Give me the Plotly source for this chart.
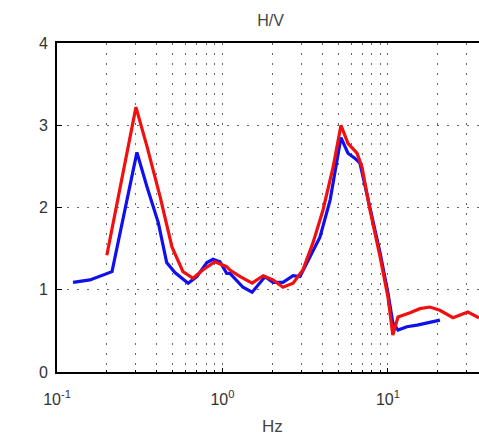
import plotly.graph_objects as go

# Blue H/V curve
blue_f = [0.125, 0.158, 0.215, 0.304, 0.35, 0.41, 0.46, 0.516, 0.62, 0.70, 0.805, 0.877, 0.966, 1.06,
          1.11, 1.33, 1.51, 1.64, 1.81, 2.02, 2.32, 2.67, 2.94, 3.38, 3.88, 4.47, 4.92, 5.2, 5.73, 6.3,
          6.77, 7.78, 8.96, 10.0, 10.7, 11.5, 13.0, 15.0, 17.9, 20.6]
blue_v = [1.09, 1.12, 1.22, 2.67, 2.25, 1.81, 1.33, 1.21, 1.08, 1.16, 1.33, 1.37, 1.34, 1.20,
          1.20, 1.03, 0.97, 1.06, 1.16, 1.09, 1.09, 1.17, 1.16, 1.40, 1.64, 2.09, 2.54, 2.85, 2.66, 2.60,
          2.54, 2.01, 1.45, 0.96, 0.60, 0.51, 0.55, 0.57, 0.60, 0.63]

# Red H/V curve
red_f = [0.20, 0.30, 0.35, 0.42, 0.495, 0.577, 0.664, 0.76, 0.90, 1.06, 1.11, 1.28, 1.51, 1.76,
         2.02, 2.32, 2.67, 3.06, 3.52, 4.05, 4.66, 5.2, 5.73, 6.5, 6.97, 7.78, 8.96, 10.0, 10.7,
         11.5, 13.6, 15.6, 17.9, 20.6, 24.7, 30.4, 35.5]
red_v = [1.42, 3.22, 2.74, 2.13, 1.52, 1.22, 1.14, 1.24, 1.34, 1.28, 1.24, 1.16, 1.08, 1.17,
         1.12, 1.03, 1.08, 1.24, 1.57, 1.97, 2.49, 3.00, 2.78, 2.66, 2.49, 1.97, 1.40, 0.91, 0.45,
         0.67, 0.72, 0.77, 0.79, 0.75, 0.66, 0.73, 0.66]

# x ticks: labelled decades, unlabelled minor grid at 2..9 of each decade
x_decades = [0.1, 1, 10]
x_decade_text = ["10<sup>-1</sup>", "10<sup>0</sup>", "10<sup>1</sup>"]
x_minor_digits = [2, 3, 4, 5, 6, 7, 8, 9]
y_tick_vals = [0, 1, 2, 3, 4]

x_minor_vals = [round(dec * d, 6) for dec in x_decades for d in x_minor_digits]

X_RANGE = [-1, 1.55]

fig = go.Figure()
fig.add_trace(go.Scatter(x=blue_f, y=blue_v, mode="lines",
                         line=dict(color="#1010ee", width=3.2), showlegend=False))
fig.add_trace(go.Scatter(x=red_f, y=red_v, mode="lines",
                         line=dict(color="#f01010", width=3.2), showlegend=False))
# invisible helper trace so the minor-grid axis is drawn
fig.add_trace(go.Scatter(x=[x_decades[1]], y=[y_tick_vals[0]], xaxis="x2", mode="markers",
                         marker=dict(opacity=0), showlegend=False, hoverinfo="skip"))

grid_color = "#666666"
grid_dash = "2px,8px"
fig.update_layout(
    width=479, height=439,
    margin=dict(l=57, r=0, t=43, b=67),
    paper_bgcolor="white", plot_bgcolor="white",
    font=dict(family="Liberation Sans, Arial, sans-serif", size=16, color="#333333"),
    title=dict(text="H/V", x=0.565, xanchor="center", y=1 - 20 / 439, yanchor="middle",
               font=dict(size=16, color="#444444")),
    xaxis=dict(type="log", range=X_RANGE, tickmode="array",
               tickvals=x_decades, ticktext=x_decade_text,
               showline=True, linecolor="black", linewidth=2, mirror=True,
               ticks="inside", ticklen=4, tickcolor="black", ticklabelstandoff=12,
               showgrid=True, gridcolor=grid_color, griddash=grid_dash, gridwidth=1,
               zeroline=False, tickfont=dict(size=16, color="#333333")),
    xaxis2=dict(type="log", range=X_RANGE, overlaying="x", side="bottom", tickmode="array",
                tickvals=x_minor_vals, showticklabels=False,
                ticks="inside", ticklen=2, tickcolor="black", showline=False,
                showgrid=True, gridcolor=grid_color, griddash=grid_dash, gridwidth=1,
                zeroline=False),
    yaxis=dict(range=[0, 4], tickvals=y_tick_vals,
               showline=True, linecolor="black", linewidth=2, mirror=False,
               ticks="inside", ticklen=5, tickcolor="black", ticklabelstandoff=4,
               showgrid=True, gridcolor=grid_color, griddash=grid_dash, gridwidth=1,
               zeroline=False, tickfont=dict(size=16, color="#333333")),
    annotations=[dict(text="Hz", xref="paper", yref="paper", x=0.51, y=-(426 - 372) / 329,
                      xanchor="center", yanchor="middle", showarrow=False,
                      font=dict(size=17, color="#444444"))],
)

fig.write_html("out.html")
